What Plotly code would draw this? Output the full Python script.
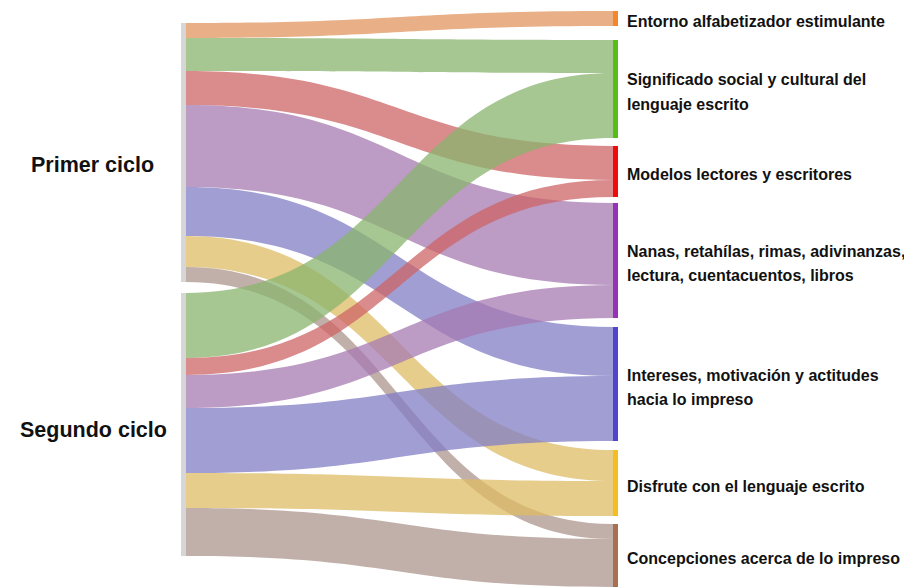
import plotly.graph_objects as go

# datos: número de menciones por ciclo y categoría
ciclos = ["Primer ciclo", "Segundo ciclo"]
categorias = [
    "Entorno alfabetizador estimulante",
    "Significado social y cultural del<br>lenguaje escrito",
    "Modelos lectores y escritores",
    "Nanas, retahílas, rimas, adivinanzas,<br>lectura, cuentacuentos, libros",
    "Intereses, motivación y actitudes<br>hacia lo impreso",
    "Disfrute con el lenguaje escrito",
    "Concepciones acerca de lo impreso",
]
primer_ciclo = [15, 33, 34, 82, 49, 31, 15]
segundo_ciclo = [0, 65, 17, 33, 65, 35, 48]

# colores: barra del nodo y enlace (semitransparente)
color_nodo = ["rgb(245,135,40)", "rgb(85,190,20)", "rgb(240,10,10)", "rgb(150,50,185)",
              "rgb(80,70,205)", "rgb(245,190,30)", "rgb(170,110,80)"]
color_enlace = ["rgba(225,150,95,0.75)", "rgba(138,180,110,0.75)", "rgba(205,100,102,0.75)",
                "rgba(166,122,178,0.75)", "rgba(130,126,198,0.75)", "rgba(222,188,100,0.75)",
                "rgba(172,148,140,0.75)"]

# layout en píxeles de la ventana (el body de la página añade 8 px de margen)
OFF = 8
W, H = 912 - OFF, 587 - OFF
TOP = 11 - OFF
ph = H - TOP
x_izq, x_der = 183.5, 615.5
top_ciclos = [23, 293]
top_cats = [11, 40, 146, 203, 327, 450, 524]


def px_x(x):
    return (x - OFF) / W


def px_y(y):
    # y de ventana -> fracción del área de trazado
    return (y - OFF - TOP) / ph


totales_ciclo = [sum(primer_ciclo), sum(segundo_ciclo)]
totales_cat = [a + b for a, b in zip(primer_ciclo, segundo_ciclo)]

node_x = [px_x(x_izq)] * 2 + [px_x(x_der)] * len(categorias)
node_y = [px_y(t + v / 2) for t, v in zip(top_ciclos, totales_ciclo)] + \
         [px_y(t + v / 2) for t, v in zip(top_cats, totales_cat)]

source, target, value, colors = [], [], [], []
for s, serie in enumerate([primer_ciclo, segundo_ciclo]):
    for j, v in enumerate(serie):
        if v > 0:
            source.append(s)
            target.append(2 + j)
            value.append(v)
            colors.append(color_enlace[j])

fig = go.Figure(go.Sankey(
    arrangement="fixed",
    node=dict(
        label=ciclos + [c.replace("<br>", " ") for c in categorias],
        x=node_x,
        y=node_y,
        pad=9,
        thickness=5,
        color=["rgb(214,214,214)"] * 2 + color_nodo,
        line=dict(width=0),
    ),
    link=dict(source=source, target=target, value=value, color=colors),
    textfont=dict(color="rgba(0,0,0,0)", size=1),
))

# etiquetas
anns = []
for nombre, t, v, cx, dy in zip(ciclos, top_ciclos, totales_ciclo, [92, 93], [12, 5]):
    cy = t + v / 2 + dy
    anns.append(dict(x=px_x(cx), y=1 - px_y(cy), text="<b>" + nombre + "</b>",
                     xanchor="center", yanchor="middle", showarrow=False,
                     font=dict(size=21.5, color="#111")))
for nombre, t, v in zip(categorias, top_cats, totales_cat):
    lineas = nombre.split("<br>")
    cy = t + v / 2 + 3
    for k, linea in enumerate(lineas):
        ly = cy + (k - (len(lineas) - 1) / 2) * 24
        anns.append(dict(x=px_x(625), y=1 - px_y(ly), text="<b>" + linea + "</b>",
                         xanchor="left", yanchor="middle", showarrow=False,
                         font=dict(size=16, color="#111")))

fig.update_layout(
    width=W, height=H,
    margin=dict(l=0, r=0, t=TOP, b=0),
    font=dict(family="Liberation Sans, Arial, sans-serif"),
    paper_bgcolor="white",
    annotations=anns,
)

fig.write_html("out.html")
